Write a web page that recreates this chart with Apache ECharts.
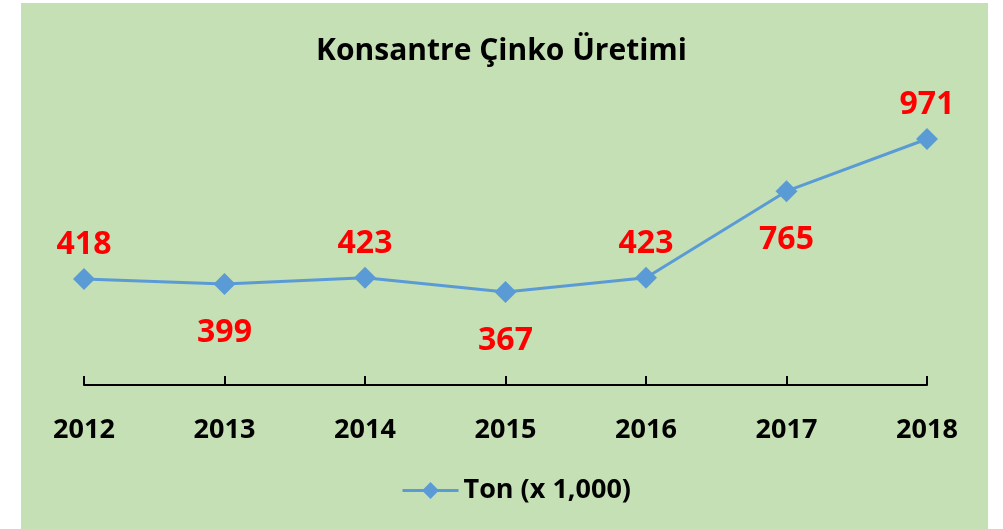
<!DOCTYPE html>
<html>
<head>
<meta charset="utf-8">
<script src="https://cdn.jsdelivr.net/npm/echarts@6/dist/echarts.min.js"></script>
<style>
  html, body { margin: 0; padding: 0; background: #fff; }
  #main { width: 1003px; height: 529px; }
</style>
</head>
<body>
<div id="main"></div>
<script>
// veriler
const years = ['2012', '2013', '2014', '2015', '2016', '2017', '2018']
const tonValues = [418, 399, 423, 367, 423, 765, 971]
const seriesName = 'Ton (x 1,000)'

const myChart = echarts.init(document.getElementById('main'))

// etiketler: üst / alt sırayla
const labelSide = ['top', 'bottom', 'top', 'bottom', 'top', 'bottom', 'top']
const seriesData = tonValues.map(function (v, i) {
  return {
    value: v,
    label: {
      position: labelSide[i],
      distance: labelSide[i] === 'top' ? 7 : 22
    }
  }
})

const font = 'Open Sans'

const option = {
  backgroundColor: '#ffffff',
  animation: false,
  graphic: [
    {
      type: 'rect',
      z: -10,
      shape: { x: 21, y: 3, width: 967, height: 530 },
      style: { fill: '#C5E0B4' }
    }
  ],
  title: {
    text: 'Konsantre Çinko Üretimi',
    left: 'center',
    top: 31,
    textStyle: {
      fontFamily: font,
      fontWeight: 'bold',
      fontSize: 30,
      color: '#000'
    }
  },
  legend: {
    bottom: 20,
    left: 396,
    itemWidth: 56,
    itemHeight: 21,
    itemGap: 8,
    lineStyle: { width: 3 },
    textStyle: {
      fontFamily: font,
      fontWeight: 'bold',
      fontSize: 27,
      color: '#000'
    },
    data: [seriesName]
  },
  grid: {
    left: 84,
    right: 76,
    top: 81,
    bottom: 144
  },
  xAxis: {
    type: 'category',
    boundaryGap: false,
    data: years,
    axisLine: { lineStyle: { color: '#000', width: 2 } },
    axisTick: { show: true, inside: true, length: 9, lineStyle: { color: '#000', width: 2 } },
    axisLabel: {
      margin: 32,
      fontFamily: font,
      fontWeight: 'bold',
      fontSize: 27,
      color: '#000'
    }
  },
  yAxis: {
    type: 'value',
    min: 0,
    max: 1200,
    show: false
  },
  series: [
    {
      name: seriesName,
      type: 'line',
      data: seriesData,
      symbol: 'diamond',
      symbolSize: 22,
      lineStyle: { color: '#5B9BD5', width: 3 },
      itemStyle: { color: '#5B9BD5' },
      label: {
        show: true,
        fontFamily: font,
        fontWeight: 'bold',
        fontSize: 32,
        color: '#FF0000'
      }
    }
  ]
}

myChart.setOption(option)
window.onresize = myChart.resize
</script>
</body>
</html>
